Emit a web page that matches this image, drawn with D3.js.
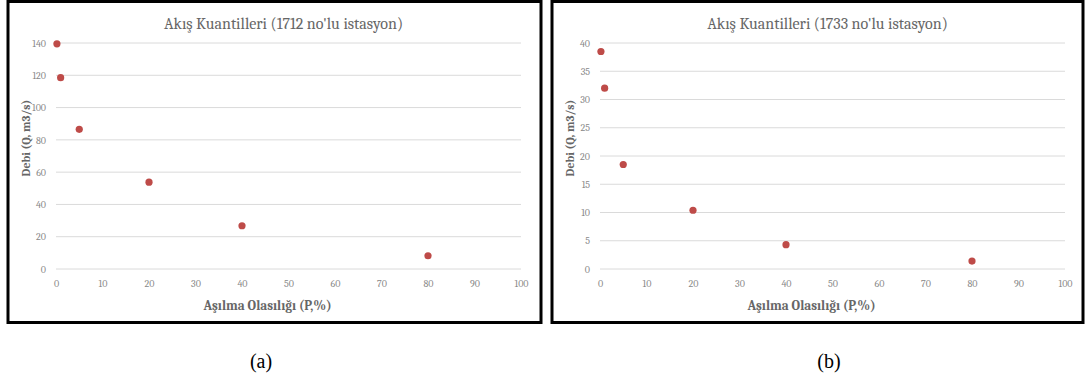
<!DOCTYPE html>
<html>
<head>
<meta charset="utf-8">
<script src="https://cdn.jsdelivr.net/npm/d3@7/dist/d3.min.js"></script>
<style>
  html, body { margin: 0; padding: 0; background: #fff; }
  svg { display: block; }
</style>
</head>
<body>
<svg id="fig" width="1086" height="383"></svg>
<script>
// Exceedance probability (%) shared by both stations
const probA = [0.2, 1, 5, 20, 40, 80];
const flowA = [139.5, 118.5, 86.5, 53.8, 26.8, 8.2];   // station 1712, m3/s
const probB = [0.2, 1, 5, 20, 40, 80];
const flowB = [38.5, 32, 18.5, 10.4, 4.3, 1.4];        // station 1733, m3/s

const xTicks = [0, 10, 20, 30, 40, 50, 60, 70, 80, 90, 100];
const yTicksA = [0, 20, 40, 60, 80, 100, 120, 140];
const yTicksB = [0, 5, 10, 15, 20, 25, 30, 35, 40];

const titles = ["Akış Kuantilleri (1712 no'lu istasyon)", "Akış Kuantilleri (1733 no'lu istasyon)"];
const captions = ["(a)", "(b)"];
const xTitle = "Aşılma Olasılığı (P,%)";
const yTitle = "Debi (Q, m3/s)";

const svg = d3.select("#fig");
const serif = "Cambria, 'DejaVu Serif', 'Liberation Serif', serif";

const panels = [
  { left: 8,   right: 541,  plotL: 56,  plotR: 521,  x: probA, y: flowA, yTicks: yTicksA, yMax: 140, title: titles[0], cap: captions[0], capX: 261 },
  { left: 552, right: 1083, plotL: 600, plotR: 1065, x: probB, y: flowB, yTicks: yTicksB, yMax: 40,  title: titles[1], cap: captions[1], capX: 829 }
];

panels.forEach(p => {
  const g = svg.append("g");
  const top = 43, bottom = 269;

  // panel frame
  g.append("rect")
    .attr("x", p.left).attr("y", 1.5)
    .attr("width", p.right - p.left).attr("height", 321)
    .attr("fill", "#fff").attr("stroke", "#000").attr("stroke-width", 3);

  const x = d3.scaleLinear().domain([0, 100]).range([p.plotL, p.plotR]);
  const y = d3.scaleLinear().domain([0, p.yMax]).range([bottom, top]);

  // horizontal gridlines
  g.append("g").selectAll("line").data(p.yTicks).join("line")
    .attr("x1", x(0)).attr("x2", x(100))
    .attr("y1", d => y(d)).attr("y2", d => y(d))
    .attr("stroke", "#dadada").attr("stroke-width", 1);

  // y axis labels
  const yAxis = g.append("g").attr("transform", `translate(${x(0) - 10},0)`)
    .call(d3.axisLeft(y).tickValues(p.yTicks).tickSize(0).tickPadding(0));
  yAxis.select(".domain").remove();
  yAxis.selectAll("text").attr("fill", "#888").attr("font-family", serif).attr("font-size", 10);

  // x axis labels
  const xAxis = g.append("g").attr("transform", `translate(0,${bottom + 11})`)
    .call(d3.axisBottom(x).tickValues(xTicks).tickSize(0).tickPadding(0));
  xAxis.select(".domain").remove();
  xAxis.selectAll("text").attr("fill", "#888").attr("font-family", serif).attr("font-size", 10);

  // chart title
  g.append("text")
    .attr("x", x(50) - 5).attr("y", 29)
    .attr("text-anchor", "middle").attr("fill", "#666")
    .attr("font-family", serif).attr("font-size", 16)
    .text(p.title);

  // axis titles
  g.append("text")
    .attr("x", x(50) - 21).attr("y", 310)
    .attr("text-anchor", "middle").attr("fill", "#666")
    .attr("font-family", serif).attr("font-size", 13.2).attr("font-weight", "bold")
    .text(xTitle);

  g.append("text")
    .attr("transform", `translate(${p.left + 22},${138}) rotate(-90)`)
    .attr("text-anchor", "middle").attr("fill", "#666")
    .attr("font-family", serif).attr("font-size", 11.8).attr("font-weight", "bold")
    .text(yTitle);

  // data points
  g.append("g").selectAll("circle").data(p.x.map((v, i) => [v, p.y[i]])).join("circle")
    .attr("cx", d => x(d[0])).attr("cy", d => y(d[1]))
    .attr("r", 3.6).attr("fill", "#be4b48");

  // caption below the panel
  svg.append("text")
    .attr("x", p.capX).attr("y", 368)
    .attr("text-anchor", "middle").attr("fill", "#000")
    .attr("font-family", "'Liberation Serif', 'Times New Roman', serif").attr("font-size", 20)
    .text(p.cap);
});
</script>
</body>
</html>
